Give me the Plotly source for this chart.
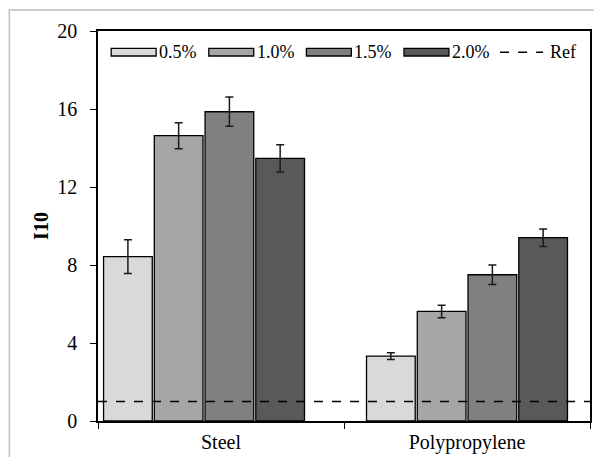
import plotly.graph_objects as go

categories = ["Steel", "Polypropylene"]
series_names = ["0.5%", "1.0%", "1.5%", "2.0%"]
values = {
    "0.5%": [8.43, 3.33],
    "1.0%": [14.63, 5.62],
    "1.5%": [15.86, 7.50],
    "2.0%": [13.47, 9.40],
}
errors = {
    "0.5%": [0.87, 0.17],
    "1.0%": [0.67, 0.32],
    "1.5%": [0.75, 0.50],
    "2.0%": [0.70, 0.45],
}
ref_value = 1.0
ref_name = "Ref"
y_ticks = [0, 4, 8, 12, 16, 20]
y_title = "I10"

colors = ["#d9d9d9", "#a6a6a6", "#808080", "#595959"]
FONT = "Liberation Serif, Times New Roman, serif"

# layout style: bar slot geometry (category units) and per-group nudge
BAR_W = 0.198
BAR_PITCH = 0.2063
GROUP_NUDGE = [-0.069, 0.0]

# page offset (body margin) between viewport and figure coordinates
OFF = 8
L, R, T, B = 97.5 - OFF, 590.0 - OFF, 31.0 - OFF, 421.0 - OFF
W, H = 602, 457

def px(xv):
    return (xv - OFF - L) / (R - L)

def py(yv):
    return (B - (yv - OFF)) / (B - T)

fig = go.Figure()
n = len(series_names)
for i, (name, col) in enumerate(zip(series_names, colors)):
    base = -BAR_PITCH * n / 2 + i * BAR_PITCH + (BAR_PITCH - BAR_W) / 2
    fig.add_trace(go.Bar(
        x=categories, y=values[name], name=name,
        width=BAR_W, offset=[base + g for g in GROUP_NUDGE],
        marker=dict(color=col, line=dict(color="#000000", width=1.3)),
        error_y=dict(type="data", array=errors[name], visible=True,
                     color="#1a1a1a", thickness=1.5, width=4),
        showlegend=False,
    ))

fig.update_layout(
    width=W, height=H,
    margin=dict(l=L, r=W - R, t=T, b=H - B, pad=0, autoexpand=False),
    paper_bgcolor="white", plot_bgcolor="white",
    barmode="overlay",
    font=dict(family=FONT, size=20, color="#000000"),
    showlegend=False,
)

fig.add_hline(y=ref_value, line=dict(color="#000000", width=1.5, dash="dash"))

# custom legend
sw_x0, sw_w, pitch = 110.7, 45.0, 97.7
sw_y0, sw_y1, mid = 48.3, 56.0, 52.3
for i, (name, col) in enumerate(zip(series_names, colors)):
    x0 = sw_x0 + i * pitch
    fig.add_shape(type="rect", xref="paper", yref="paper",
                  x0=px(x0), x1=px(x0 + sw_w), y0=py(sw_y1), y1=py(sw_y0),
                  fillcolor=col, line=dict(color="#000000", width=1.3))
    fig.add_annotation(xref="paper", yref="paper", x=px(x0 + sw_w + 1.0), y=py(mid),
                       text=name, showarrow=False, xanchor="left", yanchor="middle",
                       font=dict(family=FONT, size=18, color="#000000"))
fig.add_shape(type="line", xref="paper", yref="paper",
              x0=px(500), x1=px(543), y0=py(mid), y1=py(mid),
              line=dict(color="#000000", width=1.5, dash="dash"))
fig.add_annotation(xref="paper", yref="paper", x=px(548), y=py(mid),
                   text=ref_name, showarrow=False, xanchor="left", yanchor="middle",
                   font=dict(family=FONT, size=18, color="#000000"))

# outer gray frame
fig.add_shape(type="rect", xref="paper", yref="paper",
              x0=px(OFF + 0.75), x1=px(700), y0=py(600), y1=py(10),
              line=dict(color="#bfbfbf", width=1.5), fillcolor="rgba(0,0,0,0)",
              layer="below")

fig.update_xaxes(
    showline=True, linecolor="#000000", linewidth=1.5, mirror=True,
    ticks="outside", tickson="boundaries", ticklen=6, tickcolor="#000000",
    showgrid=False, tickfont=dict(family=FONT, size=20), ticklabelstandoff=2,
    automargin=False,
)
fig.update_yaxes(
    range=[0, 20], tickvals=y_ticks, showline=True, linecolor="#000000",
    linewidth=1.5, mirror=True, ticks="outside", ticklen=6, tickcolor="#000000",
    showgrid=False, zeroline=False, tickfont=dict(family=FONT, size=20),
    ticklabelstandoff=9, automargin=False,
    title=dict(text="<b>" + y_title + "</b>", font=dict(family=FONT, size=20), standoff=3),
)

fig.write_html("out.html")
